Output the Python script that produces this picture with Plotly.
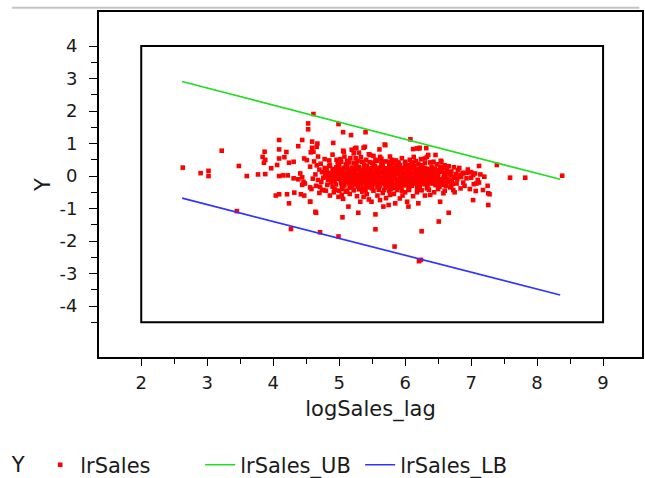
import plotly.graph_objects as go

# ---- data ----
# dense core of the cloud (logSales_lag, lrSales)
core_pts = [
    (4.74,0.12),(4.76,-0.05),(4.78,0.25),(4.73,-0.18),(4.79,0.02),
    (4.81,0.18),(4.83,-0.12),(4.84,0.06),(4.82,-0.27),(4.85,0.31),(4.80,-0.02),
    (4.87,0.10),(4.89,-0.08),(4.90,0.22),(4.88,-0.20),(4.91,0.00),(4.86,0.34),(4.90,-0.33),
    (4.94,0.15),(4.95,-0.03),(4.96,0.27),(4.93,-0.15),(4.97,0.05),(4.95,-0.26),(4.98,0.38),
    (5.00,0.09),(5.02,-0.10),(5.01,0.20),(5.03,-0.22),(5.00,0.32),(5.02,0.00),(5.04,-0.34),
    (5.06,0.13),(5.08,-0.05),(5.07,0.25),(5.09,-0.17),(5.06,0.03),(5.08,-0.29),(5.10,0.36),
    (5.12,0.08),(5.14,-0.12),(5.13,0.19),(5.15,-0.23),(5.12,0.30),(5.14,-0.01),(5.16,-0.36),
    (5.18,0.14),(5.20,-0.06),(5.19,0.26),(5.21,-0.18),(5.18,0.02),(5.20,-0.30),(5.22,0.40),
    (5.24,0.10),(5.26,-0.09),(5.25,0.21),(5.27,-0.21),(5.24,-0.01),(5.26,0.33),(5.28,-0.32),
    (5.30,0.05),(5.32,-0.14),(5.31,0.17),(5.33,-0.25),(5.30,0.28),(5.32,-0.03),(5.34,-0.38),
    (5.36,0.12),(5.38,-0.07),(5.37,0.23),(5.39,-0.19),(5.36,0.01),(5.38,0.35),(5.40,-0.30),
    (5.42,0.07),(5.44,-0.11),(5.43,0.19),(5.45,-0.23),(5.42,0.30),(5.44,-0.02),(5.46,-0.35),
    (5.48,0.13),(5.50,-0.05),(5.49,0.25),(5.51,-0.17),(5.48,0.02),(5.50,-0.29),(5.52,0.37),
    (5.54,0.09),(5.56,-0.10),(5.55,0.20),(5.57,-0.22),(5.54,0.31),(5.56,-0.01),(5.58,-0.34),
    (5.60,0.14),(5.62,-0.06),(5.61,0.26),(5.63,-0.18),(5.60,0.03),(5.62,-0.30),(5.64,0.38),
    (5.66,0.08),(5.68,-0.12),(5.67,0.19),(5.69,-0.24),(5.66,0.30),(5.68,-0.02),(5.70,-0.36),
    (5.72,0.12),(5.74,-0.07),(5.73,0.24),(5.75,-0.19),(5.72,0.01),(5.74,-0.31),(5.76,0.34),
    (5.78,0.06),(5.80,-0.13),(5.79,0.18),(5.81,-0.25),(5.78,0.29),(5.80,-0.03),(5.82,-0.37),
    (5.84,0.11),(5.86,-0.08),(5.85,0.22),(5.87,-0.20),(5.84,0.00),(5.86,0.33),(5.88,-0.32),
    (5.90,0.07),(5.92,-0.11),(5.91,0.19),(5.93,-0.23),(5.90,0.30),(5.92,-0.02),(5.94,-0.35),
    (5.96,0.13),(5.98,-0.05),(5.97,0.25),(5.99,-0.17),(5.96,0.02),(5.98,-0.29),(6.00,0.36),
    (6.02,0.09),(6.04,-0.10),(6.03,0.20),(6.05,-0.22),(6.02,0.31),(6.04,-0.01),(6.06,-0.34),
    (6.08,0.14),(6.10,-0.06),(6.09,0.26),(6.11,-0.18),(6.08,0.03),(6.10,-0.30),(6.12,0.37),
    (6.14,0.08),(6.16,-0.12),(6.15,0.19),(6.17,-0.24),(6.14,0.30),(6.16,-0.02),(6.18,-0.36),
    (6.20,0.12),(6.22,-0.07),(6.21,0.23),(6.23,-0.19),(6.20,0.01),(6.22,-0.31),(6.24,0.33),
    (6.26,0.06),(6.28,-0.13),(6.27,0.18),(6.29,-0.25),(6.26,0.28),(6.28,-0.03),
    (6.32,0.11),(6.34,-0.08),(6.33,0.22),(6.35,-0.20),(6.32,0.00),(6.34,-0.31),
    (6.38,0.07),(6.40,-0.11),(6.39,0.19),(6.41,-0.23),(6.38,-0.02),(6.40,0.29),
    (6.44,0.12),(6.46,-0.06),(6.45,0.23),(6.47,-0.17),(6.44,0.02),(6.46,-0.28),
    (6.50,0.08),(6.52,-0.10),(6.51,0.18),(6.53,-0.21),(6.50,-0.01),
    (6.56,0.13),(6.58,-0.05),(6.57,-0.16),(6.59,0.04),(6.56,-0.27),
    (6.62,0.09),(6.64,-0.08),(6.63,0.20),(6.65,-0.19),
    (6.69,0.02),(6.71,-0.12),(6.70,0.14),(6.72,-0.24),
    (6.77,0.06),(6.79,-0.10),(6.80,0.18),
    (6.85,-0.03),(6.87,0.10),(6.88,-0.20),
    (4.97,-0.09),(4.99,0.21),(5.05,-0.28),(5.04,0.17),(5.11,-0.05),(5.10,0.25),(5.17,-0.13),
    (5.16,0.09),(5.23,0.16),(5.22,-0.25),(5.29,-0.08),(5.28,0.23),(5.35,0.06),(5.34,-0.20),
    (5.41,0.14),(5.40,-0.15),(5.47,-0.09),(5.46,0.20),(5.53,0.05),(5.52,-0.24),(5.59,-0.13),
    (5.58,0.22),(5.65,0.11),(5.64,-0.21),(5.71,-0.10),(5.70,0.20),(5.77,0.15),(5.76,-0.26),
    (5.83,-0.05),(5.82,0.25),(5.89,0.14),(5.88,-0.16),(5.95,-0.09),(5.94,0.21),(6.01,0.04),
    (6.00,-0.25),(6.07,-0.13),(6.06,0.22),(6.13,0.10),(6.12,-0.20),(6.19,-0.09),(6.18,0.20),
    (6.25,0.15),(6.24,-0.24),(6.31,-0.06),(6.30,0.24),(6.37,0.14),(6.36,-0.15),(6.43,-0.10),
    (6.42,0.18),(6.49,0.04),(6.48,-0.22),(6.55,-0.10),(6.54,0.16),(6.61,-0.02),(6.60,-0.20),
    (6.67,0.08),(6.66,-0.14),(6.74,-0.05),(6.83,0.02),(4.92,0.10),(4.90,-0.14),(4.85,-0.05),
    (4.80,0.09),
]

# sparser fringe around the core
fringe_pts = [
    (4.62,0.45),(4.68,0.60),(4.72,0.38),(4.78,0.52),(4.85,0.48),(4.90,0.66),(4.96,0.50),
    (5.03,0.44),(5.08,0.60),(5.12,0.47),(5.17,0.55),(5.22,0.70),(5.28,0.46),(5.33,0.58),
    (5.41,0.50),(5.46,0.43),(5.52,0.62),(5.58,0.47),(5.64,0.53),(5.70,0.45),(5.77,0.60),
    (5.86,0.48),(5.95,0.55),(6.00,0.44),(6.07,0.50),(6.16,0.46),(6.24,0.52),(6.38,0.42),
    (6.48,0.36),(6.60,0.33),(6.66,0.30),(6.74,0.27),(6.82,0.25),(6.95,0.20),(7.00,0.12),
    (4.58,-0.40),(4.65,-0.30),(4.70,-0.52),(4.80,-0.45),(4.86,-0.60),(4.92,-0.50),(5.00,-0.45),
    (5.06,-0.70),(5.10,-0.48),(5.16,-0.55),(5.22,-0.44),(5.27,-0.62),(5.35,-0.48),(5.42,-0.56),
    (5.45,-0.72),(5.52,-0.45),(5.58,-0.60),(5.60,-0.42),(5.66,-0.52),(5.71,-0.68),(5.76,-0.45),
    (5.83,-0.55),(5.88,-0.43),(5.96,-0.60),(6.00,-0.50),(6.06,-0.43),(6.12,-0.62),(6.18,-0.50),
    (6.25,-0.44),(6.30,-0.60),(6.36,-0.42),(6.44,-0.50),(6.50,-0.40),(6.60,-0.45),(6.68,-0.35),
    (6.75,-0.50),(6.84,-0.38),(6.90,-0.30),(6.98,-0.40),(7.04,-0.25),(7.10,-0.12),(7.14,0.05),
    (6.94,0.10),(7.00,-0.05),(7.06,0.08),(7.12,-0.20),(7.20,-0.02),(7.25,-0.30),
    (4.59,1.06),(4.66,0.90),(4.61,0.75),(4.91,1.02),(5.07,0.75),(5.24,0.85),(5.39,0.90),
    (5.47,0.65),(5.70,0.95),(5.62,0.59),(5.75,0.44),(5.82,0.39),(5.92,0.34),(6.05,0.34),
    (6.13,0.59),(6.21,0.85),(6.30,0.54),(6.35,0.65),(6.43,0.44),(6.53,0.29),(6.76,-0.02),
    (6.88,0.08),(6.93,-0.07),(7.03,0.03),(7.08,-0.23),(6.78,-0.23),(6.73,-0.43),(6.58,-0.53),
    (6.53,-0.79),(6.38,-0.58),(6.20,-0.84),(6.05,-0.94),(6.03,-0.79),(5.92,-0.69),(5.85,-0.84),
    (5.77,-0.58),(5.75,-0.89),(5.62,-0.74),(5.67,-0.94),(5.49,-0.79),(5.37,-0.64),(5.32,-0.79),
    (5.04,-0.58),(4.94,-0.43),(4.76,-0.43),(4.56,-0.79),(4.64,-1.10),(4.41,0.08),(4.46,-0.18),
    (4.51,0.49),(4.56,0.29),(7.26,-0.53),(7.18,-0.43),(7.28,-0.56),(7.07,-0.46),
    (4.70,0.20),(4.68,-0.12),(4.64,0.05),(4.66,0.33),(4.71,-0.33),(4.60,-0.08),
    (5.02,0.52),(5.25,0.55),(5.55,0.50),(5.80,0.50),(6.10,0.42),(6.30,0.40),(6.58,0.26),
    (5.12,-0.45),(5.40,-0.42),(5.68,-0.43),(5.95,-0.45),(6.22,-0.42),(6.52,-0.33),(6.70,-0.30),
    (4.98,0.45),(5.15,0.42),(5.35,0.44),(5.50,0.41),(5.66,0.42),(5.90,0.42),(6.20,0.38),
    (5.05,-0.40),(5.30,-0.41),(5.50,-0.38),(5.78,-0.40),(6.05,-0.38),(6.33,-0.38),(6.62,-0.30),
]

# isolated points
outlier_pts = [
    (2.63,0.26),(2.90,0.09),(3.02,0.16),(3.02,0.00),(3.22,0.78),(3.48,0.31),(3.60,0.00),
    (3.77,0.05),(3.88,0.06),(3.45,-1.08),(3.87,0.75),(3.84,0.59),(3.86,0.41),(3.88,0.50),
    (3.97,0.24),(4.06,0.34),(4.09,0.54),(4.09,0.82),(4.09,1.11),(4.20,0.74),(4.17,0.58),
    (4.24,0.41),(4.31,0.44),(4.38,0.92),(4.44,1.11),(4.53,1.62),(4.53,1.44),(4.61,1.91),
    (4.67,1.00),(4.59,0.87),(4.57,0.73),(4.47,0.54),(4.09,0.00),(4.15,0.02),(4.22,0.02),
    (4.31,-0.07),(4.38,-0.10),(4.44,-0.04),(4.48,-0.23),(4.44,-0.27),(4.56,-0.35),
    (4.09,-0.56),(4.04,-0.60),(4.21,-0.56),(4.32,-0.51),(4.42,-0.56),(4.47,-0.60),
    (4.24,-0.84),(4.56,-0.79),(4.65,-1.13),(4.27,-1.63),(4.74,-0.43),(4.93,-0.41),
    (4.99,-0.64),(4.99,1.60),(4.71,-1.73),(4.99,-1.86),(5.05,-1.27),(5.14,-0.94),
    (5.29,-1.13),(5.55,-1.18),(5.55,-1.64),(5.84,-2.17),(6.21,-2.62),(6.24,-2.58),
    (6.25,-1.70),(6.51,-1.40),(5.06,1.35),(5.18,1.26),(5.40,1.35),(5.69,0.97),(5.61,0.82),
    (6.08,1.13),(6.22,0.87),(6.18,0.85),(6.33,0.59),(6.46,0.65),(6.54,0.47),(7.12,0.31),
    (7.39,0.34),(5.06,0.78),(5.19,0.81),(5.30,0.72),(6.66,-1.13),(7.03,-0.74),(7.26,-0.89),
    (7.59,-0.05),(7.82,-0.05),(8.38,0.01),(6.55,0.44),(6.32,0.86),(6.12,0.83),(5.26,0.87),
    (5.37,0.87),(5.45,0.67),
]

# bound lines
bound_x = [2.62, 8.35]
ub_y = [2.91, -0.10]
lb_y = [-0.68, -3.66]

# axis ticks
x_ticks = [2, 3, 4, 5, 6, 7, 8, 9]
x_minor = [2.5, 3.5, 4.5, 5.5, 6.5, 7.5, 8.5]
y_ticks = [-4, -3, -2, -1, 0, 1, 2, 3, 4]
y_minor = [-4.5, -3.5, -2.5, -1.5, -0.5, 0.5, 1.5, 2.5, 3.5]

# ---- figure ----
all_pts = core_pts + fringe_pts + outlier_pts
logSales_lag = [p[0] for p in all_pts]
lrSales = [p[1] for p in all_pts]

FONT = "DejaVu Sans, Verdana, sans-serif"
TXT = "#1a1a1a"
TICK_SIZE = 18
TEXT_SIZE = 21

fig = go.Figure()
fig.add_trace(go.Scatter(
    x=logSales_lag, y=lrSales, mode="markers", name="lrSales",
    marker=dict(symbol="square", size=4.6, color="#ff0000", line=dict(width=0)),
))
fig.add_trace(go.Scatter(
    x=bound_x, y=ub_y, mode="lines", name="lrSales_UB",
    line=dict(color="#22dd22", width=1.7),
))
fig.add_trace(go.Scatter(
    x=bound_x, y=lb_y, mode="lines", name="lrSales_LB",
    line=dict(color="#3333ff", width=1.7),
))

# inner frame
fig.add_shape(type="rect", xref="x", yref="y", x0=2, x1=9, y0=-4.5, y1=4,
              line=dict(color="black", width=2), layer="below")
# window edge at top
fig.add_shape(type="line", xref="paper", yref="paper", x0=-0.16, x1=0.995,
              y0=1.012, y1=1.012, line=dict(color="#c4c4c4", width=2))

axis_common = dict(
    showgrid=False, zeroline=False, showline=True, linecolor="black", linewidth=2,
    mirror=True, ticks="outside", tickcolor="black", tickwidth=1, automargin=False,
    tickfont=dict(family=FONT, size=TICK_SIZE, color=TXT),
)

fig.update_xaxes(
    range=[1.36, 9.59], tickmode="array", tickvals=x_ticks,
    ticktext=[str(v) for v in x_ticks], ticklen=7, ticklabelstandoff=1,
    minor=dict(tickmode="array", tickvals=x_minor, ticklen=5, ticks="outside",
               tickcolor="black", tickwidth=1),
    title=dict(text="logSales_lag", font=dict(family=FONT, size=TEXT_SIZE, color=TXT), standoff=10),
    **axis_common,
)
fig.update_yaxes(
    range=[-5.57, 5.05], tickmode="array", tickvals=y_ticks,
    ticktext=[str(v) for v in y_ticks], ticklen=8, ticklabelstandoff=8,
    minor=dict(tickmode="array", tickvals=y_minor, ticklen=6, ticks="outside",
               tickcolor="black", tickwidth=1),
    title=dict(text="Y", font=dict(family=FONT, size=TEXT_SIZE, color=TXT), standoff=3),
    **axis_common,
)

fig.update_layout(
    width=645, height=478,
    margin=dict(l=99, r=3, t=12, b=121),
    paper_bgcolor="white", plot_bgcolor="white",
    font=dict(family=FONT, size=TEXT_SIZE, color=TXT),
    showlegend=True,
    legend=dict(
        orientation="h", xref="container", yref="container",
        x=0.015, y=0.027, xanchor="left", yanchor="middle",
        title=dict(text="Y ", font=dict(family=FONT, size=TEXT_SIZE, color=TXT)),
        font=dict(family=FONT, size=TEXT_SIZE, color=TXT),
        entrywidth=115, entrywidthmode="pixels",
        bgcolor="rgba(0,0,0,0)",
    ),
)

fig.write_html(
    "out.html",
    config={"displayModeBar": False},
    post_script="document.body.style.margin='0';document.body.style.overflow='hidden';",
)
